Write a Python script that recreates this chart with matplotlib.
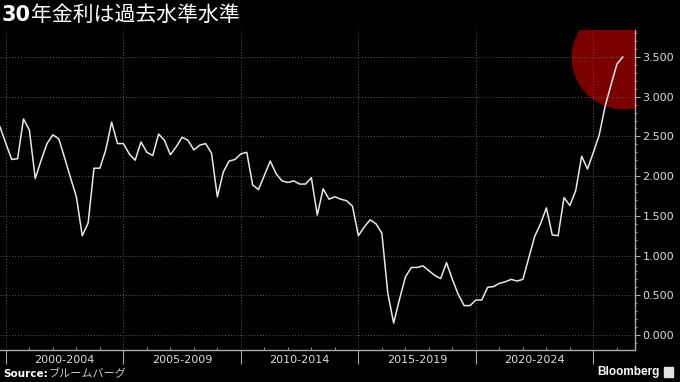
import matplotlib
matplotlib.use("Agg")
import matplotlib.pyplot as plt
import numpy as np
import pandas as pd
from matplotlib.ticker import MultipleLocator, FormatStrFormatter
from matplotlib.patches import Rectangle

# 30年金利 (四半期), 1999Q4 から
rendimento = [
    2.62, 2.41, 2.21, 2.22, 2.72, 2.58, 1.97, 2.20, 2.41, 2.52,
    2.47, 2.23, 1.98, 1.74, 1.25, 1.41, 2.10, 2.10, 2.33, 2.68,
    2.41, 2.41, 2.28, 2.20, 2.43, 2.30, 2.26, 2.53, 2.45, 2.27,
    2.37, 2.49, 2.45, 2.33, 2.39, 2.41, 2.29, 1.74, 2.05, 2.19,
    2.21, 2.28, 2.30, 1.89, 1.83, 2.01, 2.19, 2.03, 1.94, 1.92,
    1.94, 1.90, 1.90, 1.98, 1.51, 1.84, 1.71, 1.74, 1.71, 1.69,
    1.62, 1.25, 1.36, 1.45, 1.40, 1.28, 0.53, 0.15, 0.45, 0.73,
    0.85, 0.85, 0.87, 0.81, 0.75, 0.71, 0.91, 0.70, 0.51, 0.37,
    0.37, 0.44, 0.44, 0.60, 0.61, 0.65, 0.67, 0.70, 0.68, 0.70,
    0.97, 1.24, 1.40, 1.60, 1.26, 1.25, 1.73, 1.63, 1.82, 2.25,
    2.09, 2.30, 2.52, 2.88, 3.15, 3.41, 3.50,
]
primeiro_trimestre = '1999Q4'
periodos = ['2000-2004', '2005-2009', '2010-2014', '2015-2019', '2020-2024']
titulo_num = '30'
titulo_jp = '年金利は過去水準水準'

trimestres = pd.period_range(primeiro_trimestre, periods=len(rendimento), freq='Q')
anos = np.array(trimestres.year + (trimestres.quarter - 1) / 4.0)
valores = np.array(rendimento)

fig = plt.figure(figsize=(6.8, 3.82), dpi=100, facecolor='black')
ax = fig.add_axes([0, 0.0825, 0.9338, 0.839])
ax.set_facecolor('black')

# linha principal e o círculo vermelho no último ponto
ax.plot(anos, valores, color='#e8e8e8', lw=1.1, zorder=3)
ax.scatter([anos[-1]], [valores[-1]], s=5600, color='#900000', alpha=0.85,
           lw=0, zorder=2)

ax.set_xlim(1999.75, 2026.77)
ax.set_ylim(-0.195, 3.84)

# eixo y à direita
ax.yaxis.tick_right()
ax.set_yticks(np.arange(0, 3.51, 0.5))
ax.yaxis.set_major_formatter(FormatStrFormatter('%.3f'))
ax.yaxis.set_minor_locator(MultipleLocator(0.1))
ax.tick_params(axis='y', which='major', direction='out', length=3.5, width=0.8,
               color='#aaaaaa', labelcolor='#dddddd', labelsize=8, pad=2)
ax.tick_params(axis='y', which='minor', direction='out', length=1.5, width=0.6,
               color='#aaaaaa')

# eixo x: separadores de 5 anos, ticks anuais
ax.set_xticks(np.arange(2000, 2026, 5))
ax.set_xticklabels([])
ax.set_xticks(np.arange(2000, 2027), minor=True)
ax.tick_params(axis='x', which='major', direction='out', length=10, width=0.8,
               color='#aaaaaa')
ax.tick_params(axis='x', which='minor', direction='in', length=2.5, width=0.6,
               color='#aaaaaa')
trans = ax.get_xaxis_transform()
for p in periodos:
    ax.text(int(p[:4]) + 2.5, -0.015, p, transform=trans, ha='center', va='top',
            fontsize=8, color='#dddddd')

ax.set_axisbelow(False)
ax.grid(True, which='major', axis='both', color='#5a5a5a',
        linestyle=(0, (1, 2)), lw=0.7)

for lado in ['top', 'left']:
    ax.spines[lado].set_visible(False)
for lado in ['right', 'bottom']:
    ax.spines[lado].set_color('#aaaaaa')
    ax.spines[lado].set_linewidth(1)

# títulos e rodapé
fig.text(2 / 680, 0.96, titulo_num, color='white', fontsize=15,
         fontweight='bold', family='DejaVu Sans', va='center', ha='left')
fig.text(31 / 680, 0.96, titulo_jp, color='white', fontsize=15,
         family=['Noto Sans CJK JP', 'DejaVu Sans'], va='center', ha='left')

fig.text(3 / 680, 8 / 382, 'Source:', color='white', fontsize=7.5,
         fontweight='bold', va='center', ha='left')
fig.text(49 / 680, 8 / 382, 'ブルームバーグ', color='#cccccc', fontsize=8,
         family=['Noto Sans CJK JP', 'DejaVu Sans'], va='center', ha='left')

fig.text(660 / 680, 10 / 382, 'Bloomberg', color='white', fontsize=8.5,
         fontweight='bold', family='Liberation Sans', va='center', ha='right')
fig.patches.append(Rectangle((664 / 680, 5 / 382), 9 / 680, 10 / 382,
                             transform=fig.transFigure, color='#e0e0e0'))

plt.savefig('out.png', dpi=100, facecolor='black')
